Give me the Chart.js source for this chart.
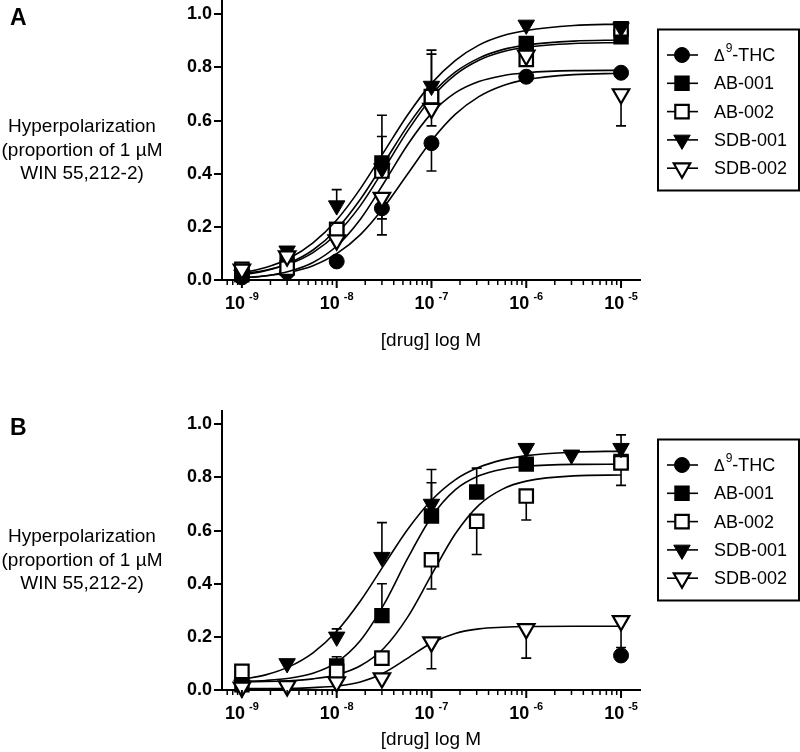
<!DOCTYPE html>
<html>
<head>
<meta charset="utf-8">
<script src="https://cdn.jsdelivr.net/npm/chart.js@4.4.1/dist/chart.umd.min.js"></script>
<style>
  body { margin: 0; background: #fff; width: 800px; height: 752px; overflow: hidden; }
  canvas { display: block; }
</style>
</head>
<body>
<canvas id="chartA" width="800" height="410"></canvas>
<canvas id="chartB" width="800" height="342"></canvas>
<script>
const seriesNames = ['Δ9-THC', 'AB-001', 'AB-002', 'SDB-001', 'SDB-002'];
const xTickValues = [1e-9, 1e-8, 1e-7, 1e-6, 1e-5];
const xTickExps = ['-9', '-8', '-7', '-6', '-5'];
const yTickValues = [0, 0.2, 0.4, 0.6, 0.8, 1.0];
const yTitleLines = ['Hyperpolarization', '(proportion of 1 µM', 'WIN 55,212-2)'];
const xTitle = '[drug] log M';

// panel A: means and one-sided error bars (+ up, - down)
const dosesA = [1e-9, 3e-9, 1e-8, 3e-8, 1e-7, 1e-6, 1e-5];
const thcA    = [0.01, 0.03, 0.07, 0.27, 0.515, 0.765, 0.78];
const ab001A  = [0.02, 0.08, 0.19, 0.44, 0.69, 0.89, 0.915];
const ab002A  = [0.04, 0.045, 0.19, 0.41, 0.69, 0.83, 0.945];
const sdb001A = [0.02, 0.11, 0.28, 0.42, 0.73, 0.96, 0.95];
const sdb002A = [0.04, 0.09, 0.15, 0.31, 0.645, 0.845, 0.70];
const thcErrA    = [0, 0, 0, -0.10, -0.105, 0, 0];
const ab001ErrA  = [0, 0, 0, 0.10, 0.16, 0, 0];
const ab002ErrA  = [0, 0, 0, 0, 0, 0, 0];
const sdb001ErrA = [0, 0, 0.06, 0.20, 0.135, 0, 0];
const sdb002ErrA = [0, 0, 0, -0.08, -0.065, 0, -0.12];

// panel B
const dosesB = [1e-9, 3e-9, 1e-8, 3e-8, 1e-7, 3e-7, 1e-6, 3e-6, 1e-5];
const thcB    = [null, null, null, null, null, null, null, null, 0.13];
const ab001B  = [0.02, null, 0.09, 0.28, 0.655, 0.745, 0.85, null, 0.86];
const ab002B  = [0.07, null, 0.07, 0.12, 0.49, 0.635, 0.73, null, 0.855];
const sdb001B = [0.02, 0.10, 0.20, 0.50, 0.70, null, 0.91, 0.885, 0.91];
const sdb002B = [0.01, 0.015, 0.03, 0.045, 0.18, null, 0.23, null, 0.26];
const thcErrB    = [0, 0, 0, 0, 0, 0, 0, 0, 0];
const ab001ErrB  = [0, 0, 0.035, 0.12, 0.125, 0.09, 0, 0, 0];
const ab002ErrB  = [0, 0, 0, 0, -0.11, -0.125, -0.09, 0, -0.085];
const sdb001ErrB = [0, 0, 0.03, 0.13, 0.13, 0, 0, 0, 0.05];
const sdb002ErrB = [0, 0, 0, 0, -0.10, 0, -0.11, 0, -0.10];

// fitted curves, at these log doses
const fitLogDose = [-9, -8.75, -8.5, -8.25, -8, -7.75, -7.5, -7.25, -7, -6.75, -6.5, -6.25, -6, -5.5, -5];
const thcFitA    = [0.008, 0.015, 0.029, 0.054, 0.099, 0.171, 0.275, 0.400, 0.524, 0.623, 0.690, 0.731, 0.754, 0.773, 0.778];
const ab001FitA  = [0.019, 0.035, 0.064, 0.113, 0.191, 0.304, 0.441, 0.581, 0.698, 0.782, 0.835, 0.867, 0.884, 0.899, 0.903];
const ab002FitA  = [0.024, 0.037, 0.060, 0.103, 0.174, 0.280, 0.418, 0.562, 0.685, 0.772, 0.827, 0.859, 0.876, 0.890, 0.894];
const sdb001FitA = [0.027, 0.047, 0.082, 0.140, 0.226, 0.344, 0.483, 0.622, 0.740, 0.826, 0.884, 0.919, 0.939, 0.958, 0.963];
const sdb002FitA = [0.008, 0.016, 0.033, 0.066, 0.128, 0.229, 0.366, 0.510, 0.627, 0.704, 0.747, 0.769, 0.780, 0.788, 0.789];
const ab001FitB  = [0.033, 0.036, 0.044, 0.063, 0.104, 0.186, 0.323, 0.496, 0.651, 0.753, 0.806, 0.831, 0.842, 0.849, 0.850];
const ab002FitB  = [0.031, 0.032, 0.035, 0.042, 0.057, 0.091, 0.158, 0.275, 0.433, 0.587, 0.696, 0.756, 0.786, 0.806, 0.809];
const sdb001FitB = [0.040, 0.057, 0.088, 0.140, 0.221, 0.335, 0.471, 0.605, 0.714, 0.791, 0.838, 0.866, 0.882, 0.895, 0.899];
const sdb002FitB = [0.005, 0.005, 0.006, 0.009, 0.015, 0.030, 0.065, 0.120, 0.177, 0.213, 0.230, 0.236, 0.239, 0.240, 0.240];

const markerStyles = [
    {style: 'circle', radius: 7.5, rotation: 0, fill: '#000', border: 1},
    {style: 'rect', radius: 9.5, rotation: 0, fill: '#000', border: 2},
    {style: 'rect', radius: 9.5, rotation: 0, fill: '#fff', border: 2.2},
    {style: 'triangle', radius: 9.5, rotation: 180, fill: '#000', border: 1},
    {style: 'triangle', radius: 9.5, rotation: 180, fill: '#fff', border: 2.2}
];

const FONT = '"Liberation Sans", Arial, sans-serif';

const panelPlugin = {
    id: 'panel',
    beforeDatasetsDraw(chart) {
        const {ctx, scales: {x, y}} = chart;
        ctx.save();
        ctx.strokeStyle = '#000';
        ctx.lineWidth = 1.6;
        chart.data.datasets.forEach(ds => {
            if (!ds.isPoints) return;
            ds.data.forEach(p => {
                if (!p.err) return;
                const px = x.getPixelForValue(p.x),
                    y0 = y.getPixelForValue(p.y),
                    y1 = y.getPixelForValue(p.y + p.err);
                ctx.beginPath();
                ctx.moveTo(px, y0);
                ctx.lineTo(px, y1);
                ctx.moveTo(px - 5, y1);
                ctx.lineTo(px + 5, y1);
                ctx.stroke();
            });
        });
        ctx.restore();
    },
    afterDraw(chart, args, opts) {
        const {ctx, scales: {x}, chartArea} = chart;
        const axisY = chartArea.bottom;
        ctx.save();
        ctx.fillStyle = '#000';
        ctx.strokeStyle = '#000';

        // log ticks on x
        for (let n = -10; n <= -5; n++) {
            for (let k = 1; k <= 9; k++) {
                const v = k * Math.pow(10, n);
                if (v < x.min || v > x.max) continue;
                const px = x.getPixelForValue(v);
                ctx.lineWidth = k === 1 ? 2 : 1.5;
                ctx.beginPath();
                ctx.moveTo(px, axisY);
                ctx.lineTo(px, axisY + (k === 1 ? 8 : 5));
                ctx.stroke();
            }
        }

        // x tick labels 10^n
        ctx.textBaseline = 'alphabetic';
        ctx.textAlign = 'left';
        xTickValues.forEach((v, i) => {
            const px = x.getPixelForValue(v);
            ctx.font = 'bold 18px ' + FONT;
            const w1 = ctx.measureText('10').width;
            ctx.font = 'bold 11px ' + FONT;
            const w2 = ctx.measureText(xTickExps[i]).width;
            const left = px - (w1 + 4 + w2) / 2;
            ctx.font = 'bold 18px ' + FONT;
            ctx.fillText('10', left, axisY + 28.5);
            ctx.font = 'bold 11px ' + FONT;
            ctx.fillText(xTickExps[i], left + w1 + 4, axisY + 20);
        });

        // axis titles
        ctx.font = '19px ' + FONT;
        ctx.textAlign = 'center';
        ctx.fillText(xTitle, 431, axisY + opts.xTitleGap);
        yTitleLines.forEach((t, i) => ctx.fillText(t, 82, 132 + i * 23.5));

        // panel letter
        ctx.font = 'bold 23px ' + FONT;
        ctx.textAlign = 'left';
        ctx.fillText(opts.letter, 10, 25);

        // legend
        ctx.lineWidth = 2;
        ctx.strokeRect(658, 29.5, 141, 161);
        seriesNames.forEach((name, i) => {
            const st = markerStyles[i];
            const ly = 55 + i * 28.3;
            ctx.lineWidth = 1.6;
            ctx.beginPath();
            ctx.moveTo(667, ly);
            ctx.lineTo(698, ly);
            ctx.stroke();
            ctx.fillStyle = st.fill;
            ctx.lineWidth = st.border;
            Chart.helpers.drawPoint(ctx, {pointStyle: st.style, radius: st.radius, rotation: st.rotation, borderWidth: st.border}, 682, ly);
            ctx.fillStyle = '#000';
            ctx.textBaseline = 'middle';
            ctx.textAlign = 'left';
            if (i === 0) {
                ctx.font = '16px ' + FONT;
                ctx.fillText('Δ', 714, ly + 2);
                const wd = ctx.measureText('Δ').width;
                ctx.font = '12px ' + FONT;
                ctx.fillText('9', 714 + wd + 1, ly - 6);
                const w9 = ctx.measureText('9').width;
                ctx.font = '18px ' + FONT;
                ctx.fillText('-THC', 714 + wd + 1 + w9, ly + 1);
            } else {
                ctx.font = '18px ' + FONT;
                ctx.fillText(name, 714, ly + 1);
            }
        });
        ctx.restore();
    }
};

function makeChart(id, letter, doses, means, errs, fits, canvasH, xTitleGap) {
    const datasets = [];
    seriesNames.forEach((name, i) => {
        const st = markerStyles[i];
        const order = 20 - 2 * i;
        if (fits[i]) {
            datasets.push({
                label: name + ' fit',
                data: fitLogDose.map((lx, k) => ({x: Math.pow(10, lx), y: fits[i][k]})),
                borderColor: '#000',
                borderWidth: 1.6,
                pointRadius: 0,
                pointHoverRadius: 0,
                cubicInterpolationMode: 'monotone',
                fill: false,
                order: order
            });
        }
        const pts = [];
        doses.forEach((d, k) => {
            if (means[i][k] !== null) pts.push({x: d, y: means[i][k], err: errs[i][k]});
        });
        datasets.push({
            label: name,
            isPoints: true,
            data: pts,
            showLine: false,
            pointStyle: st.style,
            pointRadius: st.radius,
            pointHoverRadius: st.radius,
            pointRotation: st.rotation,
            pointBackgroundColor: st.fill,
            pointBorderColor: '#000',
            pointBorderWidth: st.border,
            clip: false,
            order: order - 1
        });
    });

    return new Chart(document.getElementById(id), {
        type: 'line',
        data: {datasets: datasets},
        options: {
            responsive: false,
            animation: false,
            devicePixelRatio: 1,
            events: [],
            layout: {autoPadding: false, padding: {left: 142, right: 160, top: 1, bottom: 0}},
            scales: {
                x: {
                    type: 'logarithmic',
                    min: Math.pow(10, -9.21),
                    max: Math.pow(10, -4.8),
                    grid: {display: false},
                    border: {display: true, color: '#000', width: 2},
                    ticks: {display: false},
                    afterFit: s => { s.height = canvasH - 280; s.paddingLeft = 0; s.paddingRight = 0; }
                },
                y: {
                    min: 0,
                    max: 1.05,
                    afterBuildTicks: s => { s.ticks = yTickValues.map(v => ({value: v})); },
                    afterFit: s => { s.width = 80; s.paddingTop = 0; s.paddingBottom = 0; },
                    grid: {display: true, drawOnChartArea: false, drawTicks: true, tickLength: 8, lineWidth: 2, color: '#000'},
                    border: {display: true, color: '#000', width: 2},
                    ticks: {
                        color: '#000',
                        padding: 2,
                        font: {family: 'Liberation Sans', size: 18, weight: 'bold'},
                        callback: v => v.toFixed(1)
                    }
                }
            },
            plugins: {
                legend: {display: false},
                tooltip: {enabled: false},
                panel: {letter: letter, xTitleGap: xTitleGap}
            }
        },
        plugins: [panelPlugin]
    });
}

const chartA = makeChart('chartA', 'A', dosesA,
    [thcA, ab001A, ab002A, sdb001A, sdb002A],
    [thcErrA, ab001ErrA, ab002ErrA, sdb001ErrA, sdb002ErrA],
    [thcFitA, ab001FitA, ab002FitA, sdb001FitA, sdb002FitA], 410, 66);

const chartB = makeChart('chartB', 'B', dosesB,
    [thcB, ab001B, ab002B, sdb001B, sdb002B],
    [thcErrB, ab001ErrB, ab002ErrB, sdb001ErrB, sdb002ErrB],
    [null, ab001FitB, ab002FitB, sdb001FitB, sdb002FitB], 342, 55);
</script>
</body>
</html>
